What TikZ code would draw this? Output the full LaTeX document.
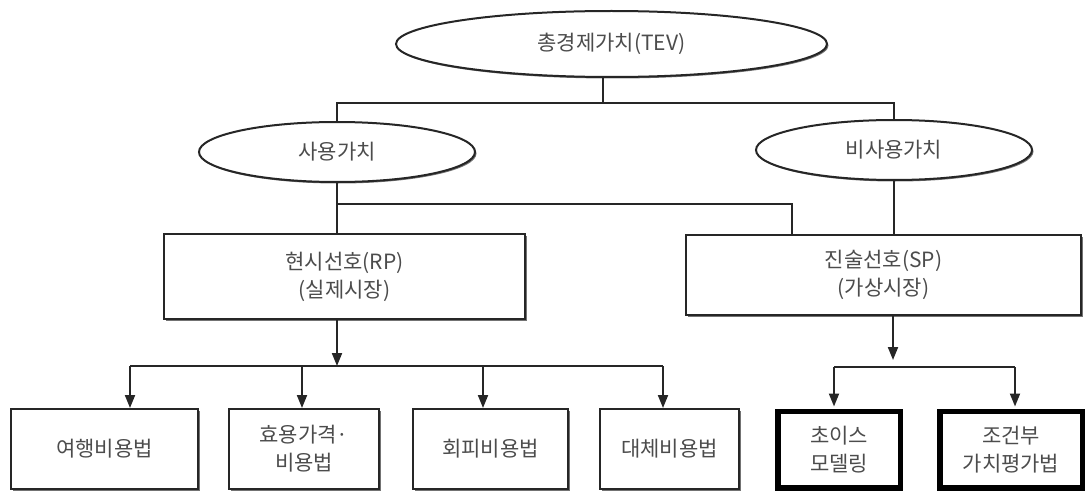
\documentclass[tikz,border=0pt]{standalone}
\usepackage{fontspec}
\newfontfamily\krfont{Noto Sans CJK KR}
\usetikzlibrary{arrows.meta,shapes.geometric,shadows}
\begin{document}
\begin{tikzpicture}[x=1pt,y=-1pt,
  lab/.style={font=\krfont\fontsize{21}{28}\selectfont, text=black!70, align=center, inner sep=0pt},
  shad/.style={drop shadow={shadow xshift=1.5pt,shadow yshift=-1.5pt,fill=black!55,opacity=1}},
  ell/.style={lab, ellipse, draw=black!85, line width=2pt, fill=white, shad},
  box/.style={lab, rectangle, draw=black!85, line width=2pt, fill=white, shad},
  thickbox/.style={lab, rectangle, draw=black, line width=5.5pt, fill=white, shad},
  conn/.style={draw=black!85, line width=2pt},
  arr/.style={conn, -{Triangle[length=13pt,width=10pt]}},
]
\useasboundingbox (0,0) rectangle (1087,492);

% top level
\node[ell, minimum width=431pt, minimum height=66pt] (tev) at (611.5,44) {총경제가치(TEV)};
\node[ell, minimum width=276pt, minimum height=60pt] (use) at (337,152) {사용가치};
\node[ell, minimum width=276pt, minimum height=60pt] (nonuse) at (894,150) {비사용가치};

% second level
\node[box, minimum width=361pt, minimum height=85pt] (rp) at (344.5,276.5) {현시선호(RP)\\(실제시장)};
\node[box, minimum width=395pt, minimum height=80pt] (sp) at (883.5,275) {진술선호(SP)\\(가상시장)};

% bottom level
\node[box, minimum width=187pt, minimum height=80pt] (m1) at (104.5,449) {여행비용법};
\node[box, minimum width=150pt, minimum height=80pt] (m2) at (304,449) {효용가격·\\비용법};
\node[box, minimum width=155pt, minimum height=80pt] (m3) at (490.5,449) {회피비용법};
\node[box, minimum width=139pt, minimum height=80pt] (m4) at (669.5,449) {대체비용법};
\node[thickbox, minimum width=122.5pt, minimum height=76.5pt] (m5) at (839,449.5) {초이스\\모델링};
\node[thickbox, minimum width=142.5pt, minimum height=76.5pt] (m6) at (1011,449.5) {조건부\\가치평가법};

% junction coordinates
\coordinate (stem) at (603,103);
\coordinate (b1) at (337,204);
\coordinate (b2) at (792,204);
\coordinate (ra) at (337,366);
\coordinate (h1) at (130,366);
\coordinate (h2) at (302,366);
\coordinate (h3) at (483,366);
\coordinate (h4) at (663,366);
\coordinate (sa) at (893,360);
\coordinate (s1) at (834,367);
\coordinate (s2) at (1015,367);

% connectors
\draw[conn] (stem |- tev.south) -- (stem);
\draw[conn] (use.north) |- (stem) -| (nonuse.north);
\draw[conn] (use.south) -- (use.south |- rp.north);
\draw[conn] (b1) -- (b2) -- (b2 |- sp.north);
\draw[conn] (nonuse.south) -- (nonuse.south |- sp.north);

\draw[arr] (ra |- rp.south) -- (ra);
\draw[conn] (h1) -- (h4);
\draw[arr] (h1) -- (h1 |- m1.north);
\draw[arr] (h2) -- (h2 |- m2.north);
\draw[arr] (h3) -- (h3 |- m3.north);
\draw[arr] (h4) -- (h4 |- m4.north);

\draw[arr] (sa |- sp.south) -- (sa);
\draw[conn] (s1) -- (s2);
\draw[arr] (s1) -- ([yshift=2pt]s1 |- m5.north);
\draw[arr] (s2) -- ([yshift=2pt]s2 |- m6.north);
\end{tikzpicture}
\end{document}
